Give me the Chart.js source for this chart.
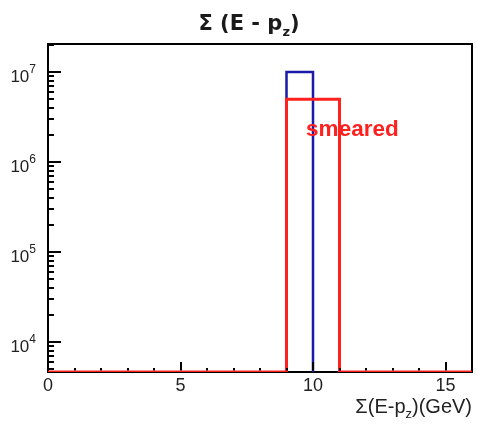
<!DOCTYPE html>
<html><head><meta charset="utf-8">
<script src="https://cdn.jsdelivr.net/npm/chart.js@4"></script>
<style>html,body{margin:0;padding:0;background:#fff}canvas{display:block}</style>
</head><body>
<canvas id="c" width="477" height="425"></canvas>
<script>
// ---- data ----
const binEdges = [0,1,2,3,4,5,6,7,8,9,10,11,12,13,14,15,16];
const blueCounts = [0,0,0,0,0,0,0,0,0,1.0e7,0,0,0,0,0,0];
const redCounts  = [0,0,0,0,0,0,0,0,0,5.0e6,5.0e6,0,0,0,0,0];
const xTickValues = [0,1,2,3,4,5,6,7,8,9,10,11,12,13,14,15,16];
const xMajorTicks = [0,5,10,15];
const yDecades = [3,4,5,6,7];
const yLabelExponents = [4,5,6,7];
const xMin = 0, xMax = 16, yMin = 4640, yMax = 2.05e7;
const seriesLabels = ['smeared', 'original'];

function outline(edges, counts, floor, keepZeros){
  const pts = [];
  for (let i = 0; i < counts.length; i++){
    const c = counts[i];
    if (c > 0){
      if (!keepZeros && !(counts[i-1] > 0)) pts.push({x:edges[i], y:floor});
      pts.push({x:edges[i], y:c}, {x:edges[i+1], y:c});
      if (!keepZeros && !(counts[i+1] > 0)) pts.push({x:edges[i+1], y:floor}, {x:edges[i+1], y:null});
    } else if (keepZeros){
      pts.push({x:edges[i], y:floor}, {x:edges[i+1], y:floor});
    }
  }
  return pts;
}

const yTickValues = [];
yDecades.forEach(d => { for (let m = 1; m <= 9; m++){ const v = m*Math.pow(10,d); if (v >= yMin && v <= yMax) yTickValues.push(v); } });

function drawRich(ctx, parts, x, y, align){
  let w = 0;
  parts.forEach(p => { ctx.font = p.font; p.w = ctx.measureText(p.t).width; w += p.w; });
  let cx = align === 'right' ? x - w : (align === 'center' ? x - w/2 : x);
  ctx.textAlign = 'left'; ctx.textBaseline = 'alphabetic';
  parts.forEach(p => { ctx.font = p.font; ctx.fillText(p.t, cx, y + (p.dy||0)); cx += p.w; });
}

const framePlugin = {
  id: 'frame',
  beforeDatasetsDraw(chart){
    const {ctx, chartArea:a} = chart;
    ctx.save();
    ctx.strokeStyle = '#000'; ctx.lineWidth = 2;
    ctx.strokeRect(a.left, a.top, a.right - a.left, a.bottom - a.top);
    ctx.restore();
  },
  afterDatasetsDraw(chart){
    const {ctx, chartArea:a, scales} = chart;
    ctx.save();
    ctx.strokeStyle = '#000'; ctx.lineWidth = 2;
    ctx.beginPath();
    xTickValues.forEach(v => {
      const px = Math.round(scales.x.getPixelForValue(v));
      const len = xMajorTicks.includes(v) ? 10 : 4;
      ctx.moveTo(px, a.bottom - 1.5); ctx.lineTo(px, a.bottom - len);
    });
    yTickValues.forEach(v => {
      const py = Math.round(scales.y.getPixelForValue(v));
      const major = Math.abs(Math.log10(v) - Math.round(Math.log10(v))) < 1e-9;
      const len = major ? 13 : 6;
      ctx.moveTo(a.left, py); ctx.lineTo(a.left + len, py);
    });
    ctx.stroke();
    ctx.restore();
  },
  afterDraw(chart){
    const {ctx, chartArea:a, scales} = chart;
    ctx.save();
    // y labels 10^n
    ctx.fillStyle = '#222';
    yLabelExponents.forEach(e => {
      const py = scales.y.getPixelForValue(Math.pow(10, e));
      drawRich(ctx, [
        {t:'10', font:'17px "Liberation Sans", Arial, sans-serif'},
        {t:String(e), font:'12px "Liberation Sans", Arial, sans-serif', dy:-9}
      ], 36, py + 10, 'right');
    });
    // title
    ctx.fillStyle = '#1a1a1a';
    drawRich(ctx, [
      {t:'\u03A3 (E - p', font:'bold 21px "DejaVu Sans", sans-serif'},
      {t:'z', font:'bold 13px "DejaVu Sans", sans-serif', dy:6},
      {t:')', font:'bold 21px "DejaVu Sans", sans-serif'}
    ], 249, 30, 'center');
    // x axis title
    ctx.fillStyle = '#222';
    drawRich(ctx, [
      {t:'\u03A3(E-p', font:'20px "Liberation Sans", Arial, sans-serif'},
      {t:'z', font:'13px "Liberation Sans", Arial, sans-serif', dy:5},
      {t:')(GeV)', font:'20px "Liberation Sans", Arial, sans-serif'}
    ], 472, 413, 'right');
    // series label
    ctx.fillStyle = '#ff2020';
    ctx.font = 'bold 22.5px "Liberation Sans", Arial, sans-serif';
    ctx.textAlign = 'left'; ctx.textBaseline = 'alphabetic';
    ctx.fillText(seriesLabels[0], scales.x.getPixelForValue(9.74), scales.y.getPixelForValue(1.95e6));
    ctx.restore();
  }
};

new Chart(document.getElementById('c').getContext('2d'), {
  type: 'scatter',
  data: {
    datasets: [
      { label: seriesLabels[0], data: outline(binEdges, redCounts, yMin, true), showLine: true,
        borderColor: '#ff2020', borderWidth: 3, pointRadius: 0, tension: 0, spanGaps: false, order: 1 },
      { label: seriesLabels[1], data: outline(binEdges, blueCounts, yMin, false), showLine: true,
        borderColor: '#1a1aa8', borderWidth: 2.5, pointRadius: 0, tension: 0, spanGaps: false, order: 2 }
    ]
  },
  options: {
    responsive: false, animation: false, devicePixelRatio: 1,
    layout: { padding: { top: 44, right: 5, left: 0, bottom: 0 } },
    plugins: { legend: { display: false }, tooltip: { enabled: false }, title: { display: false } },
    scales: {
      x: {
        type: 'linear', min: xMin, max: xMax,
        afterBuildTicks: s => { s.ticks = xTickValues.map(v => ({value: v})); },
        afterFit: s => { s.height = 53; },
        ticks: { autoSkip: false, maxRotation: 0, minRotation: 0, padding: 3, color: '#222',
          font: { family: '"Liberation Sans", Arial, sans-serif', size: 18 },
          callback: v => xMajorTicks.includes(v) ? String(v) : '' },
        grid: { display: false, drawTicks: false },
        border: { display: false }
      },
      y: {
        type: 'logarithmic', min: yMin, max: yMax,
        afterBuildTicks: s => { s.ticks = yTickValues.map(v => ({value: v})); },
        afterFit: s => { s.width = 48; },
        ticks: { display: false, autoSkip: false },
        grid: { display: false, drawTicks: false },
        border: { display: false }
      }
    }
  },
  plugins: [framePlugin]
});
</script>
</body></html>
